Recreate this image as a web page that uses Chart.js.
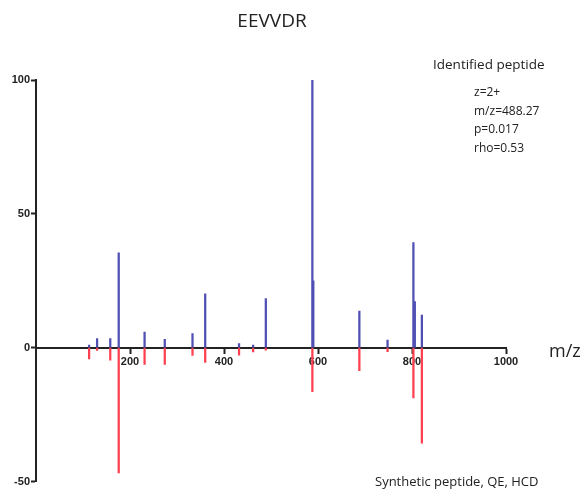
<!DOCTYPE html>
<html>
<head>
<meta charset="utf-8">
<script src="https://cdn.jsdelivr.net/npm/chart.js@4.4.1/dist/chart.umd.min.js"></script>
<style>
  html, body { margin: 0; padding: 0; background: #fff; }
  canvas { display: block; }
</style>
</head>
<body>
<canvas id="chart" width="585" height="491"></canvas>
<script>
// identified peptide (upper, blue)
const identifiedMz = [113, 130, 158, 176, 231, 274, 333, 360, 432, 462, 489, 588, 590, 688, 748, 803, 806, 821];
const identifiedIntensity = [1, 3.4, 3.4, 35.4, 5.8, 3.1, 5.3, 20.1, 1.5, 1, 18.3, 100, 25, 13.7, 2.8, 39.3, 17.2, 12.2];

// synthetic peptide (lower, red, mirrored)
const syntheticMz = [113, 130, 158, 176, 231, 274, 333, 360, 432, 462, 489, 588, 688, 748, 803, 821];
const syntheticIntensity = [-4.2, -1, -4.7, -46.8, -6.3, -6.3, -2.9, -5.5, -2.8, -1.6, -0.9, -16.4, -8.6, -1.5, -18.8, -35.7];

const xTicks = [200, 400, 600, 800, 1000];
const yTicks = [-50, 0, 50, 100];

const infoLines = ["z=2+", "m/z=488.27", "p=0.017", "rho=0.53"];

const toPoints = (xs, ys) => xs.map((x, i) => ({ x: x, y: ys[i] }));

const labels = {
    id: "labels",
    afterDraw(chart) {
        const c = chart.ctx;
        c.save();
        c.fillStyle = "#222";
        c.textBaseline = "middle";
        c.textAlign = "center";
        c.font = "19px 'Open Sans'";
        c.fillText("EEVVDR", 272, 22);

        c.textAlign = "left";
        c.font = "13.5px 'Open Sans'";
        c.fillText("Identified peptide", 433, 65);
        c.font = "12px 'Open Sans'";
        infoLines.forEach((t, i) => c.fillText(t, 474, 93 + i * 18.4));

        c.font = "18px 'Open Sans'";
        c.fillText("m/z", 549, 352);

        c.font = "13px 'Open Sans'";
        c.fillText("Synthetic peptide, QE, HCD", 375, 482);
        c.restore();
    }
};

const tickFont = { family: "Liberation Sans", size: 11, weight: "bold" };

new Chart(document.getElementById("chart").getContext("2d"), {
    type: "bar",
    data: {
        datasets: [{
            label: "Identified peptide",
            data: toPoints(identifiedMz, identifiedIntensity),
            backgroundColor: "#5050b4",
            barThickness: 1.6
        }, {
            label: "Synthetic peptide",
            data: toPoints(syntheticMz, syntheticIntensity),
            backgroundColor: "#ff4050",
            barThickness: 1.6
        }]
    },
    options: {
        responsive: false,
        animation: false,
        grouped: false,
        layout: { padding: { left: 0, right: 79, top: 80, bottom: 9.5 } },
        plugins: { legend: { display: false }, tooltip: { enabled: false } },
        scales: {
            x: {
                type: "linear",
                position: { y: 0 },
                min: 0,
                max: 1000,
                offset: false,
                afterBuildTicks: s => { s.ticks = xTicks.map(v => ({ value: v })); },
                ticks: {
                    color: "#222",
                    font: tickFont,
                    padding: 3,
                    maxRotation: 0,
                    callback: v => String(v)
                },
                grid: { display: true, drawOnChartArea: false, drawTicks: true, tickLength: 5, tickWidth: 2, tickColor: "#222", offset: false },
                border: { display: true, color: "#222", width: 2 }
            },
            y: {
                min: -50,
                max: 100,
                afterBuildTicks: s => { s.ticks = yTicks.map(v => ({ value: v })); },
                afterFit: s => { s.width = 36; },
                ticks: {
                    color: "#222",
                    font: tickFont,
                    padding: 1,
                    callback: v => String(v)
                },
                grid: { display: true, drawOnChartArea: false, drawTicks: true, tickLength: 5, tickWidth: 2, tickColor: "#222" },
                border: { display: true, color: "#222", width: 2 }
            }
        }
    },
    plugins: [labels]
});
</script>
</body>
</html>
